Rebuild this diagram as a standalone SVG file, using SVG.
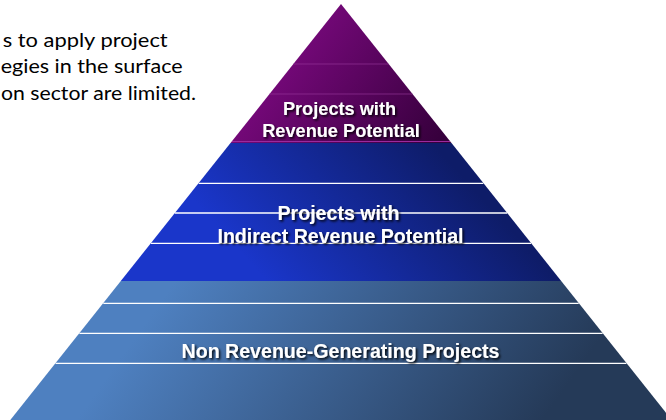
<svg xmlns="http://www.w3.org/2000/svg" width="666" height="420" viewBox="0 0 666 420">
  <defs>
    <!-- band shading: lighter at upper left, darker at lower right -->
    <linearGradient id="gPurple" gradientUnits="userSpaceOnUse" x1="260" y1="30" x2="430" y2="150">
      <stop offset="0" stop-color="#820a86"/>
      <stop offset="1" stop-color="#37003d"/>
    </linearGradient>
    <linearGradient id="gBlue" gradientUnits="userSpaceOnUse" x1="270" y1="285" x2="430" y2="140">
      <stop offset="0" stop-color="#1a36ca"/>
      <stop offset="1" stop-color="#0e1c68"/>
    </linearGradient>
    <linearGradient id="gSteel" gradientUnits="userSpaceOnUse" x1="190" y1="260" x2="500" y2="480">
      <stop offset="0" stop-color="#4e80c0"/>
      <stop offset="1" stop-color="#253a58"/>
    </linearGradient>
    <filter id="shadow" x="-10%" y="-30%" width="120%" height="160%">
      <feDropShadow dx="1.6" dy="1.6" stdDeviation="0.8" flood-color="#000" flood-opacity="0.9"/>
    </filter>
  </defs>
  <style>
    .rule { stroke: #ffffff; stroke-width: 1.3; fill: none; }
    .rule-faint { stroke: #9a3a9e; stroke-width: 1; fill: none; opacity: 0.6; }
    .label { font-family: Arial, "Liberation Sans", sans-serif; font-weight: bold; fill: #ffffff; text-anchor: middle; filter: url(#shadow); }
    .note { font-family: Lato, "Open Sans", sans-serif; font-size: 19.5px; fill: #000000; }
  </style>

  <rect width="666" height="420" fill="#ffffff"/>

  <!-- introductory note, upper left -->
  <g id="note">
    <text class="note" x="2.7" y="46.5" textLength="165" lengthAdjust="spacingAndGlyphs">s to apply project</text>
    <text class="note" x="0.7" y="73" textLength="182" lengthAdjust="spacingAndGlyphs">egies in the surface</text>
    <text class="note" x="1" y="99.5" textLength="195" lengthAdjust="spacingAndGlyphs">on sector are limited.</text>
  </g>

  <!-- top tier -->
  <g id="tier-revenue">
    <polygon points="341,4 451.5,143 230.5,143" fill="url(#gPurple)"/>
    <line class="rule-faint" x1="293.3" y1="64" x2="388.7" y2="64"/>
    <line class="rule-faint" x1="269.4" y1="94" x2="412.6" y2="94"/>
    <line x1="232" y1="141.5" x2="450" y2="141.5" stroke="#9b2a9e" stroke-width="1.2"/>
    <text class="label" font-size="18.2" x="339.5" y="114.5">Projects with</text>
    <text class="label" font-size="18.2" x="341" y="137">Revenue Potential</text>
  </g>

  <!-- middle tier -->
  <g id="tier-indirect">
    <polygon points="230.5,143 451.5,143 561.2,281 120.8,281" fill="url(#gBlue)"/>
    <line class="rule" x1="198.7" y1="183.3" x2="483.3" y2="183.3"/>
    <line class="rule" x1="174.8" y1="213" x2="507.2" y2="213"/>
    <line class="rule" x1="151" y1="243.3" x2="531" y2="243.3"/>
    <text class="label" font-size="19.6" x="338.5" y="219.5">Projects with</text>
    <text class="label" font-size="19.6" x="340.5" y="242.5">Indirect Revenue Potential</text>
  </g>

  <!-- base tier -->
  <g id="tier-non-revenue">
    <polygon points="120.8,281 561.2,281 671.7,420 10.3,420" fill="url(#gSteel)"/>
    <line class="rule" x1="103.3" y1="303.3" x2="578.7" y2="303.3"/>
    <line class="rule" x1="79.4" y1="333.3" x2="602.6" y2="333.3"/>
    <line class="rule" x1="55.6" y1="363.3" x2="626.4" y2="363.3"/>
    <text class="label" font-size="19.6" x="340.5" y="357.5">Non Revenue-Generating Projects</text>
  </g>

  <g id="connectors"/>
</svg>
